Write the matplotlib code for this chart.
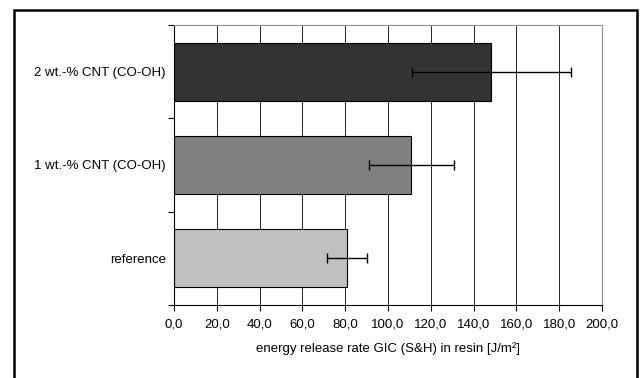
import numpy as np
import matplotlib.pyplot as plt
from matplotlib.patches import Rectangle
from matplotlib.ticker import FuncFormatter, FixedLocator

plt.rcParams['font.family'] = ['Liberation Sans', 'DejaVu Sans']

# energy release rate per sample, bottom to top
samples = ['reference', '1 wt.-% CNT (CO-OH)', '2 wt.-% CNT (CO-OH)']
gic_mean = [80.9, 110.9, 148.3]
gic_err = [9.2, 20.0, 37.3]
bar_colors = ['#c0c0c0', '#808080', '#333333']
x_ticks = [0, 20, 40, 60, 80, 100, 120, 140, 160, 180, 200]

fig = plt.figure(figsize=(6.41, 3.78), dpi=100)
ax = fig.add_axes([174 / 641, 1 - 305 / 378, (602 - 174) / 641, (305 - 25) / 378])

# outer chart frame (bottom edge runs off the image)
fig.patches.append(Rectangle((14 / 641, -0.05), (637 - 14) / 641, 1.05 - 10 / 378,
                             transform=fig.transFigure, fill=False,
                             edgecolor='black', linewidth=1.8, zorder=0))

y = np.arange(len(samples))
ax.barh(y, gic_mean, height=0.62, color=bar_colors, edgecolor='black',
        linewidth=0.8, zorder=2)
ax.errorbar(gic_mean, y, xerr=gic_err, fmt='none', ecolor='black',
            elinewidth=1.0, capsize=3.5, capthick=1.0, zorder=3)

ax.set_xlim(0, 200)
ax.set_ylim(-0.5, len(samples) - 0.5)
ax.set_xticks(x_ticks)
ax.xaxis.set_major_formatter(FuncFormatter(lambda v, p: f'{v:.1f}'.replace('.', ',')))
ax.xaxis.grid(True, color='black', linewidth=0.6, zorder=1)
ax.set_axisbelow(True)

ax.set_yticks(y)
ax.set_yticklabels(samples)
ax.yaxis.set_minor_locator(FixedLocator(np.arange(len(samples) + 1) - 0.5))
ax.tick_params(axis='y', which='major', length=0, pad=6, labelsize=9.5)
ax.tick_params(axis='y', which='minor', length=4, width=0.8, direction='out')
ax.tick_params(axis='x', which='major', length=4, width=0.8, direction='out',
               pad=6, labelsize=9.5)

for side in ['top', 'right']:
    ax.spines[side].set_color('#909090')
    ax.spines[side].set_linewidth(0.8)
for side in ['left', 'bottom']:
    ax.spines[side].set_color('black')
    ax.spines[side].set_linewidth(0.8)

ax.set_xlabel('energy release rate GIC (S&H) in resin [J/m²]', fontsize=9.5, labelpad=8)

fig.savefig('out.png', dpi=100)
